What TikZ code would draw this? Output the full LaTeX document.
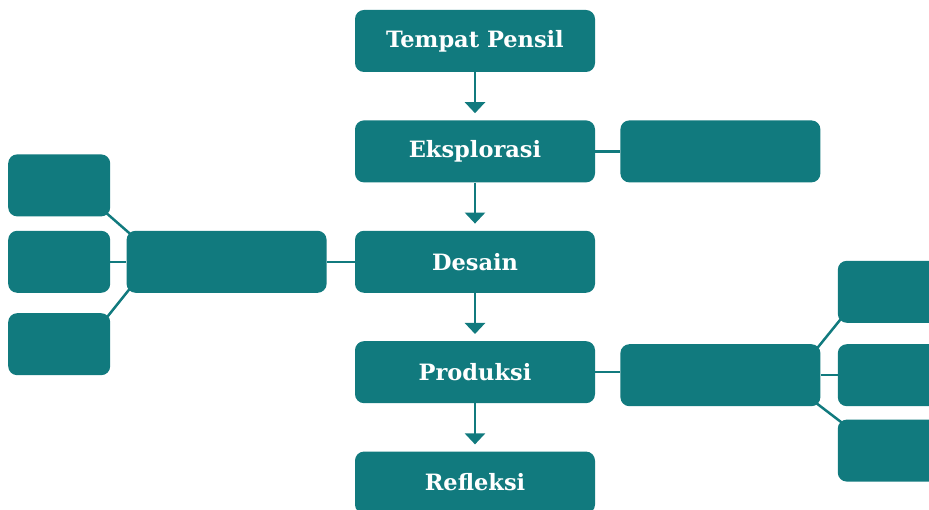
\documentclass[tikz,border=0pt]{standalone}
\usepackage{fontspec}
\setmainfont{DejaVu Serif}
\usetikzlibrary{arrows.meta,positioning,backgrounds}
\definecolor{BoxClr}{RGB}{17,122,126}

\begin{document}
\begin{tikzpicture}[x=1pt,y=1pt,
  box/.style={fill=BoxClr,rounded corners=9pt,inner sep=0pt,text=white,
    font=\bfseries\fontsize{22.5}{26}\selectfont},
  stage/.style={box,minimum width=240pt,minimum height=62pt},
  side/.style={box,minimum width=200pt,minimum height=62pt},
  leaf/.style={box,minimum width=102pt,minimum height=62pt},
  link/.style={draw=BoxClr,line width=2.5pt},
  branch/.style={link,shorten >=-6pt,shorten <=-6pt},
  flow/.style={link,-{Triangle[width=20pt,length=11pt]},shorten >=7pt},
  node distance=48pt]
\useasboundingbox (0,0) rectangle (929,510);
\clip (0,0) rectangle (929,510);

% main steps
\node[stage] (tempat) at (475,469) {Tempat Pensil};
\node[stage,below=of tempat] (eksplorasi) {Eksplorasi};
\node[stage,below=of eksplorasi] (desain) {Desain};
\node[stage,below=of desain] (produksi) {Produksi};
\node[stage,below=of produksi] (refleksi) {Refleksi};

% side boxes
\node[side,right=25pt of eksplorasi] (eksR) {};
\node[side,left=28pt of desain] (desL) {};
\node[side,right=25pt of produksi,yshift=-3pt] (proR) {};

\node[leaf,left=16pt of desL] (l2) {};
\node[leaf,above=14pt of l2] (l1) {};
\node[leaf,below=20pt of l2] (l3) {};

\node[leaf,right=17pt of proR] (r2) {};
\node[leaf,above=21pt of r2] (r1) {};
\node[leaf,below=13pt of r2] (r3) {};

\begin{scope}[on background layer]
\foreach \a/\b in {tempat/eksplorasi,eksplorasi/desain,desain/produksi,produksi/refleksi}
  \draw[flow] (\a) -- (\b);
\draw[link] (eksplorasi) -- (eksR);
\draw[link] (desain) -- (desL);
\draw[link] (produksi) -- (produksi -| proR.west);
\draw[branch] (l1.south east) -- (desL.north west);
\draw[link] (l2) -- (l2 -| desL.west);
\draw[branch] (l3.north east) -- (desL.south west);
\draw[branch] (proR.north east) -- (r1.south west);
\draw[link] (proR) -- (r2);
\draw[branch] (proR.south east) -- (r3.north west);
\end{scope}
\end{tikzpicture}
\end{document}
